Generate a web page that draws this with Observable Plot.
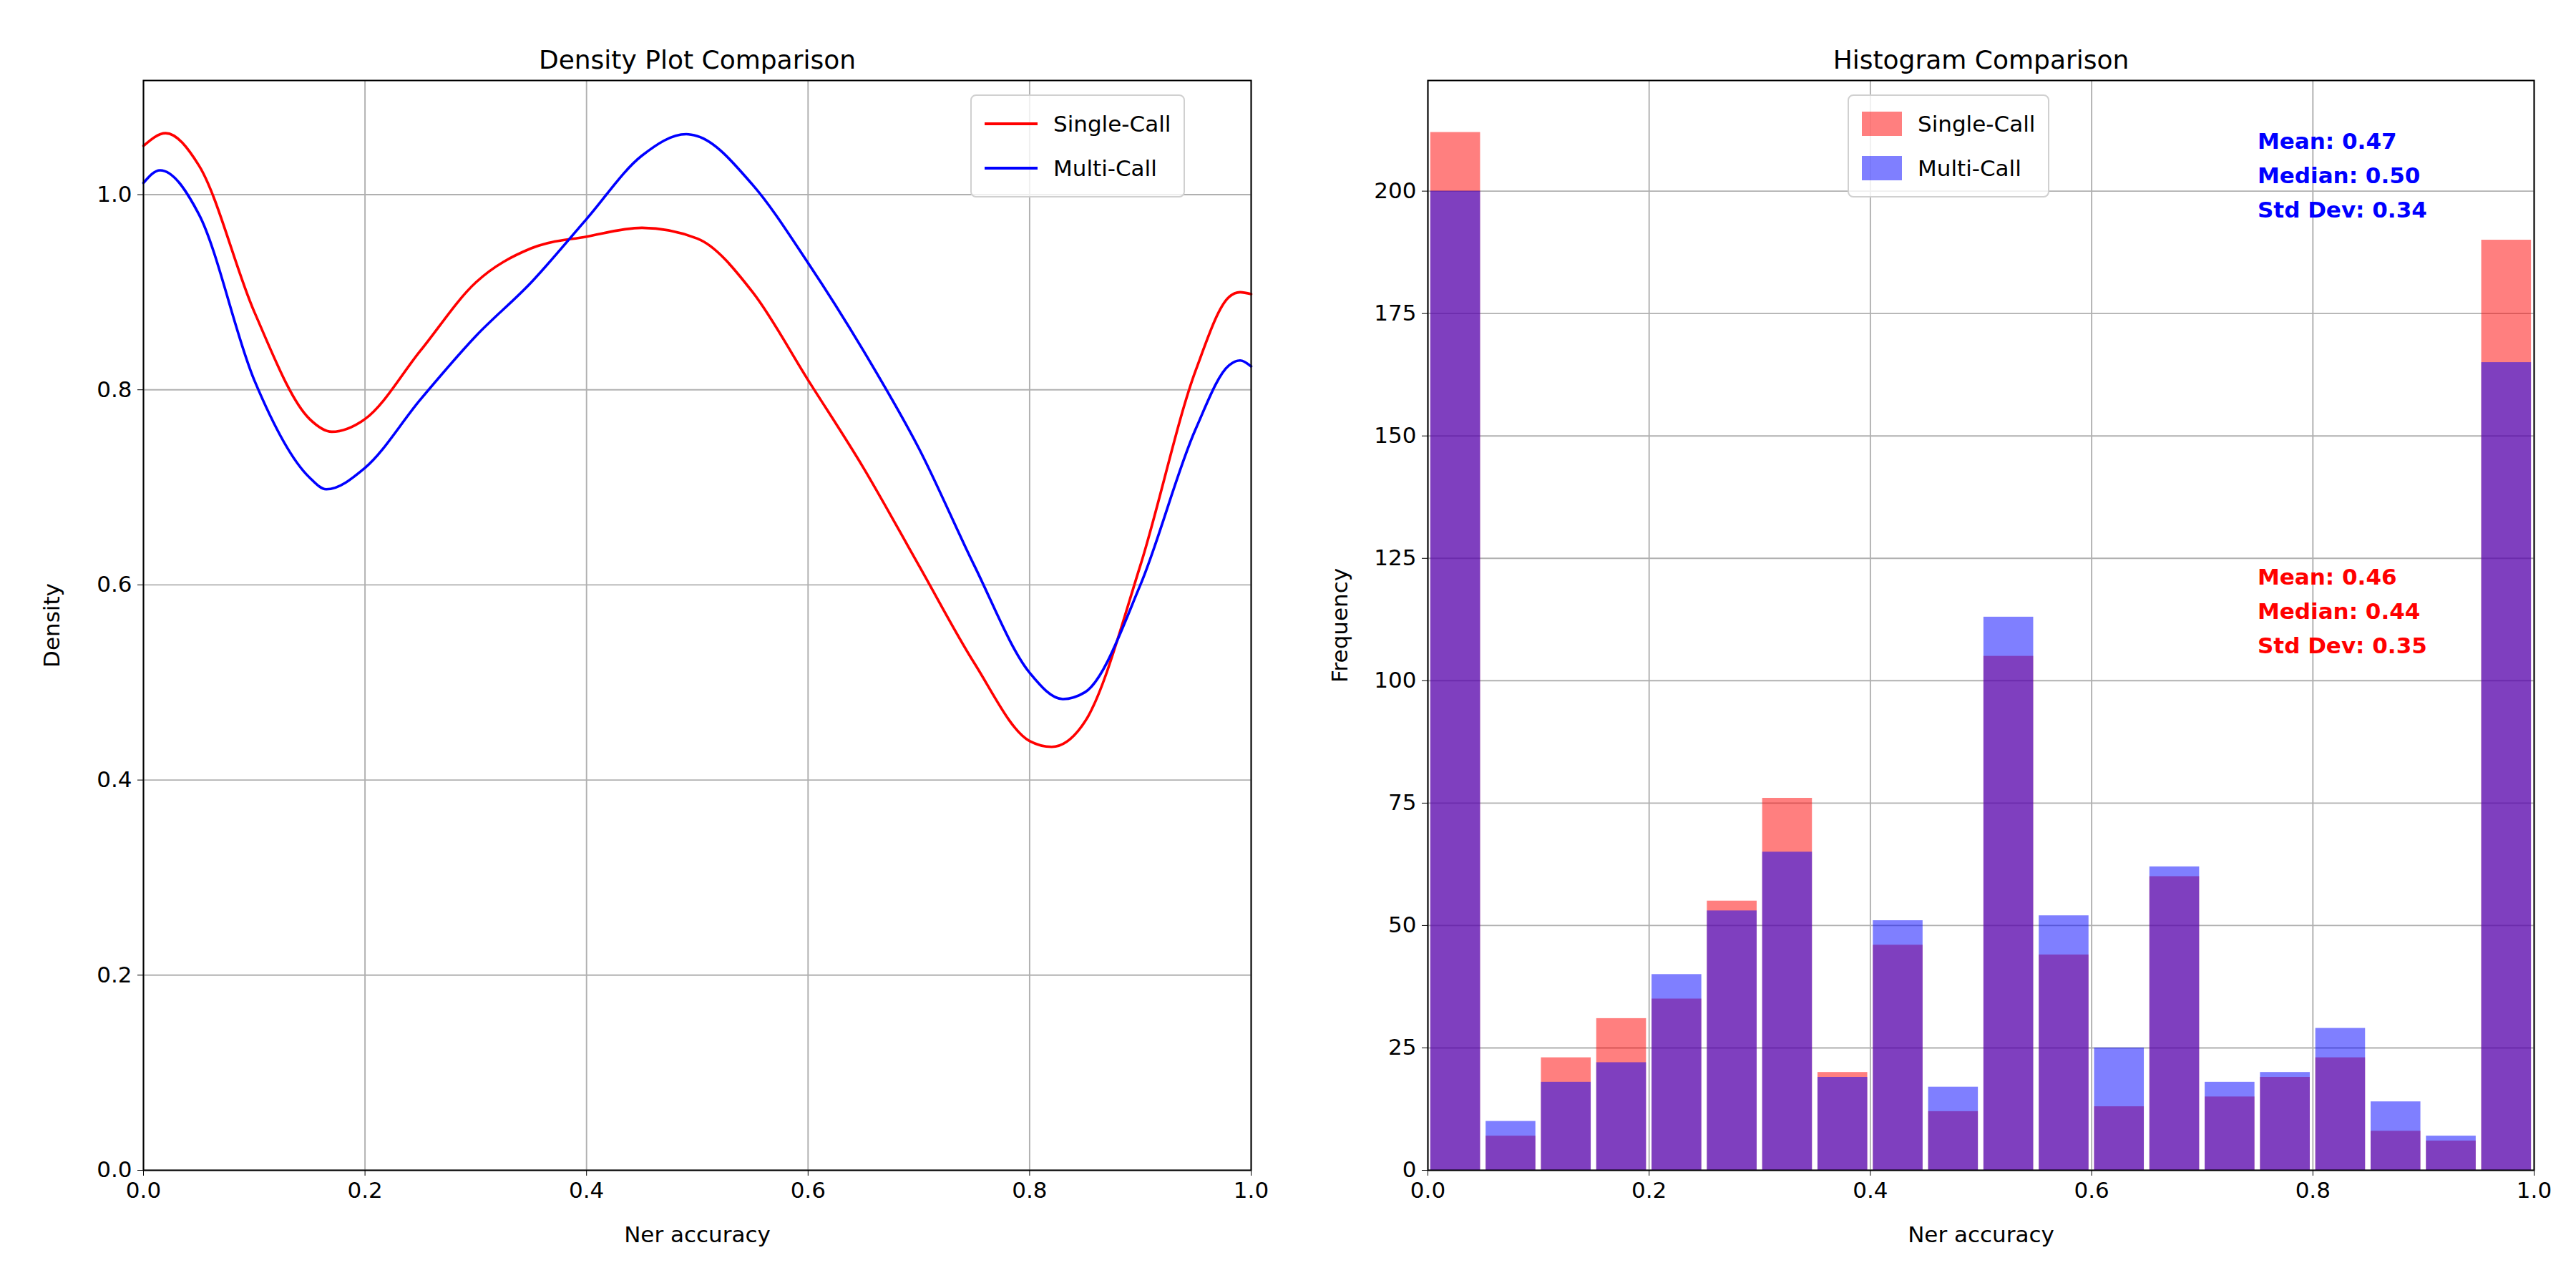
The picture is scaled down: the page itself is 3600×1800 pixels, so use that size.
<!DOCTYPE html>
<html><head><meta charset="utf-8">
<script src="https://cdn.jsdelivr.net/npm/d3@7"></script>
<script src="https://cdn.jsdelivr.net/npm/@observablehq/plot@0.6"></script>
<style>
body{margin:0;background:#fff;font-family:"DejaVu Sans",sans-serif;}
#wrap{position:relative;width:3600px;height:1800px;}
.p{position:absolute;top:0;}
.leg{position:absolute;background:rgba(255,255,255,0.8);border:2px solid #d0d0d0;border-radius:8px;font-size:31px;padding:8px 18px;line-height:62px;}
.leg div{display:flex;align-items:center;gap:22px;}
.sw{display:inline-block;width:74px;}
</style></head><body><div id="wrap"></div>
<script>
const densX = [0,0.02,0.05,0.1,0.15,0.17,0.2,0.25,0.3,0.35,0.4,0.45,0.5,0.55,0.6,0.65,0.7,0.75,0.8,0.82,0.85,0.9,0.95,0.98,0.99,1.0];
const densSingle = [1.05,1.063,1.03,0.88,0.77,0.757,0.77,0.84,0.91,0.945,0.957,0.966,0.955,0.90,0.81,0.72,0.62,0.52,0.44,0.434,0.46,0.62,0.82,0.895,0.9,0.898];
const densMultiX = [0,0.015,0.05,0.1,0.15,0.165,0.2,0.25,0.3,0.35,0.4,0.45,0.49,0.5,0.55,0.6,0.65,0.7,0.75,0.8,0.83,0.85,0.9,0.95,0.98,0.99,1.0];
const densMulti = [1.012,1.025,0.98,0.81,0.71,0.698,0.72,0.79,0.855,0.91,0.975,1.04,1.062,1.06,1.01,0.93,0.84,0.74,0.62,0.51,0.483,0.49,0.6,0.76,0.825,0.83,0.824];
const histSingle = [212,7,23,31,35,55,76,20,46,12,105,44,13,60,15,19,23,8,6,190];
const histMulti  = [200,10,18,22,40,53,65,19,51,17,113,52,25,62,18,20,29,14,7,165];
const xTicks = [0,0.2,0.4,0.6,0.8,1.0];
const densTicks = [0,0.2,0.4,0.6,0.8,1.0];
const freqTicks = [0,25,50,75,100,125,150,175,200];
const statsMulti = ["Mean: 0.47","Median: 0.50","Std Dev: 0.34"];
const statsSingle = ["Mean: 0.46","Median: 0.44","Std Dev: 0.35"];

const wrap = document.getElementById("wrap");
const FS = 31;
const common = {width:1800,height:1800,marginTop:112,marginBottom:165,
  style:{fontFamily:"DejaVu Sans",fontSize:FS+"px",background:"transparent",color:"#000"}};
const grid = "#b0b0b0";
const f1 = d3.format(".1f");

const dS = densX.map((x,i)=>({x,y:densSingle[i]}));
const dM = densMultiX.map((x,i)=>({x,y:densMulti[i]}));
const left = Plot.plot({...common, marginLeft:200, marginRight:52,
  x:{domain:[0,1]}, y:{domain:[0,1.117]},
  marks:[
    Plot.ruleX(xTicks,{stroke:grid,strokeWidth:1.9}),
    Plot.ruleY(densTicks,{stroke:grid,strokeWidth:1.9}),
    Plot.line(dS,{x:"x",y:"y",curve:"monotone-x",stroke:"red",strokeWidth:3.6}),
    Plot.line(dM,{x:"x",y:"y",curve:"monotone-x",stroke:"blue",strokeWidth:3.6}),
    Plot.frame({stroke:"#000",strokeWidth:2}),
    Plot.axisX({ticks:xTicks,tickFormat:f1,tickSize:8,tickPadding:8,fontSize:FS,label:"Ner accuracy",labelAnchor:"center",labelArrow:"none",labelOffset:100}),
    Plot.axisY({ticks:densTicks,tickFormat:f1,tickSize:8,tickPadding:8,fontSize:FS,label:"Density",labelAnchor:"center",labelArrow:"none",labelOffset:140}),
    Plot.text(["Density Plot Comparison"],{frameAnchor:"top",dy:-42,fontSize:36})
  ]});
left.classList.add("p"); left.style.left="0px"; wrap.appendChild(left);

const bins = histSingle.map((v,i)=>({x1:i*0.05+0.0025,x2:(i+1)*0.05-0.0025,s:v,m:histMulti[i]}));
const right = Plot.plot({...common, marginLeft:195, marginRight:59,
  x:{domain:[0,1]}, y:{domain:[0,222.6]},
  marks:[
    Plot.ruleX(xTicks,{stroke:grid,strokeWidth:1.9}),
    Plot.ruleY(freqTicks,{stroke:grid,strokeWidth:1.9}),
    Plot.rectY(bins,{x1:"x1",x2:"x2",y:"s",fill:"red",fillOpacity:0.5}),
    Plot.rectY(bins,{x1:"x1",x2:"x2",y:"m",fill:"blue",fillOpacity:0.5}),
    Plot.frame({stroke:"#000",strokeWidth:2}),
    Plot.axisX({ticks:xTicks,tickFormat:f1,tickSize:8,tickPadding:8,fontSize:FS,label:"Ner accuracy",labelAnchor:"center",labelArrow:"none",labelOffset:100}),
    Plot.axisY({ticks:freqTicks,tickSize:8,tickPadding:8,fontSize:FS,label:"Frequency",labelAnchor:"center",labelArrow:"none",labelOffset:135}),
    Plot.text(["Histogram Comparison"],{frameAnchor:"top",dy:-42,fontSize:36}),
    Plot.text([statsMulti.join("\n")],{x:0.75,y:222.6*0.96,textAnchor:"start",lineAnchor:"top",fill:"blue",fontWeight:"bold",fontSize:FS,lineHeight:1.55}),
    Plot.text([statsSingle.join("\n")],{x:0.75,y:222.6*0.56,textAnchor:"start",lineAnchor:"top",fill:"red",fontWeight:"bold",fontSize:FS,lineHeight:1.55})
  ]});
right.classList.add("p"); right.style.left="1800px"; wrap.appendChild(right);

function legend(x,y,items,patch){
  const d=document.createElement("div"); d.className="leg"; d.style.left=x+"px"; d.style.top=y+"px";
  items.forEach(([c,l])=>{const r=document.createElement("div");
    const s=document.createElement("span"); s.className="sw";
    if(patch){s.style.height="34px";s.style.background=c;s.style.opacity=0.5;s.style.width="56px";}
    else{s.style.height="4px";s.style.background=c;}
    r.appendChild(s); const t=document.createElement("span"); t.textContent=l; r.appendChild(t); d.appendChild(r);});
  wrap.appendChild(d);
}
legend(1356,132,[["red","Single-Call"],["blue","Multi-Call"]],false);
legend(2582,132,[["red","Single-Call"],["blue","Multi-Call"]],true);
</script></body></html>
